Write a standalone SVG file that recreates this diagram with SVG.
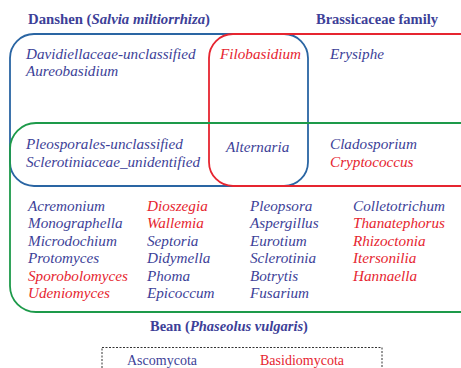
<svg xmlns="http://www.w3.org/2000/svg" width="461" height="368" viewBox="0 0 461 368">
<style>
text{font-family:"Liberation Serif","Times New Roman",serif;font-size:14px;fill:#3d3f98}
.i{font-style:italic;font-size:15.2px}
.b{font-weight:bold;font-size:14.5px}
.r{fill:#e62530}
.set{fill:none;stroke-width:1.8}
</style>
<rect width="461" height="368" fill="#ffffff"/>
<g id="sets">
<rect id="danshen" class="set" x="10" y="34" width="298" height="152" rx="24" stroke="#2a65a3"/>
<rect id="brassicaceae" class="set" x="209" y="34" width="280" height="152" rx="24" stroke="#e62530"/>
<rect id="bean" class="set" x="10" y="123" width="480" height="189" rx="26" stroke="#1d9a4a"/>
</g>
<g id="titles">
<text class="b" x="28" y="24" textLength="182" lengthAdjust="spacingAndGlyphs">Danshen (<tspan font-style="italic">Salvia miltiorrhiza</tspan>)</text>
<text class="b" x="316" y="24">Brassicaceae family</text>
<text class="b" x="150" y="331">Bean (<tspan font-style="italic">Phaseolus vulgaris</tspan>)</text>
</g>
<g id="danshen-only">
<text class="i" x="26" y="59">Davidiellaceae-unclassified</text>
<text class="i" x="26" y="76">Aureobasidium</text>
</g>
<g id="danshen-brassica">
<text class="i r" x="220" y="59">Filobasidium</text>
</g>
<g id="brassica-only">
<text class="i" x="330" y="59">Erysiphe</text>
</g>
<g id="danshen-bean">
<text class="i" x="26" y="149">Pleosporales-unclassified</text>
<text class="i" x="26" y="166.5">Sclerotiniaceae_unidentified</text>
</g>
<g id="all-three">
<text class="i" x="226" y="152">Alternaria</text>
</g>
<g id="brassica-bean">
<text class="i" x="330" y="149">Cladosporium</text>
<text class="i r" x="330" y="166.5">Cryptococcus</text>
</g>
<g id="bean-only">
<text class="i" x="28" y="210.5">Acremonium</text>
<text class="i" x="28" y="228">Monographella</text>
<text class="i" x="28" y="245.5">Microdochium</text>
<text class="i" x="28" y="263">Protomyces</text>
<text class="i r" x="28" y="280.5">Sporobolomyces</text>
<text class="i r" x="28" y="298">Udeniomyces</text>
<text class="i r" x="147" y="210.5">Dioszegia</text>
<text class="i r" x="147" y="228">Wallemia</text>
<text class="i" x="147" y="245.5">Septoria</text>
<text class="i" x="147" y="263">Didymella</text>
<text class="i" x="147" y="280.5">Phoma</text>
<text class="i" x="147" y="298">Epicoccum</text>
<text class="i" x="250" y="210.5">Pleopsora</text>
<text class="i" x="250" y="228">Aspergillus</text>
<text class="i" x="250" y="245.5">Eurotium</text>
<text class="i" x="250" y="263">Sclerotinia</text>
<text class="i" x="250" y="280.5">Botrytis</text>
<text class="i" x="250" y="298">Fusarium</text>
<text class="i" x="353" y="210.5">Colletotrichum</text>
<text class="i r" x="353" y="228">Thanatephorus</text>
<text class="i r" x="353" y="245.5">Rhizoctonia</text>
<text class="i r" x="353" y="263">Itersonilia</text>
<text class="i r" x="353" y="280.5">Hannaella</text>
</g>
<g id="legend">
<rect x="102" y="347.5" width="280" height="40" fill="none" stroke="#333" stroke-width="1" stroke-dasharray="2,1.5"/>
<text x="127" y="365">Ascomycota</text>
<text class="r" x="260" y="365">Basidiomycota</text>
</g>
</svg>
